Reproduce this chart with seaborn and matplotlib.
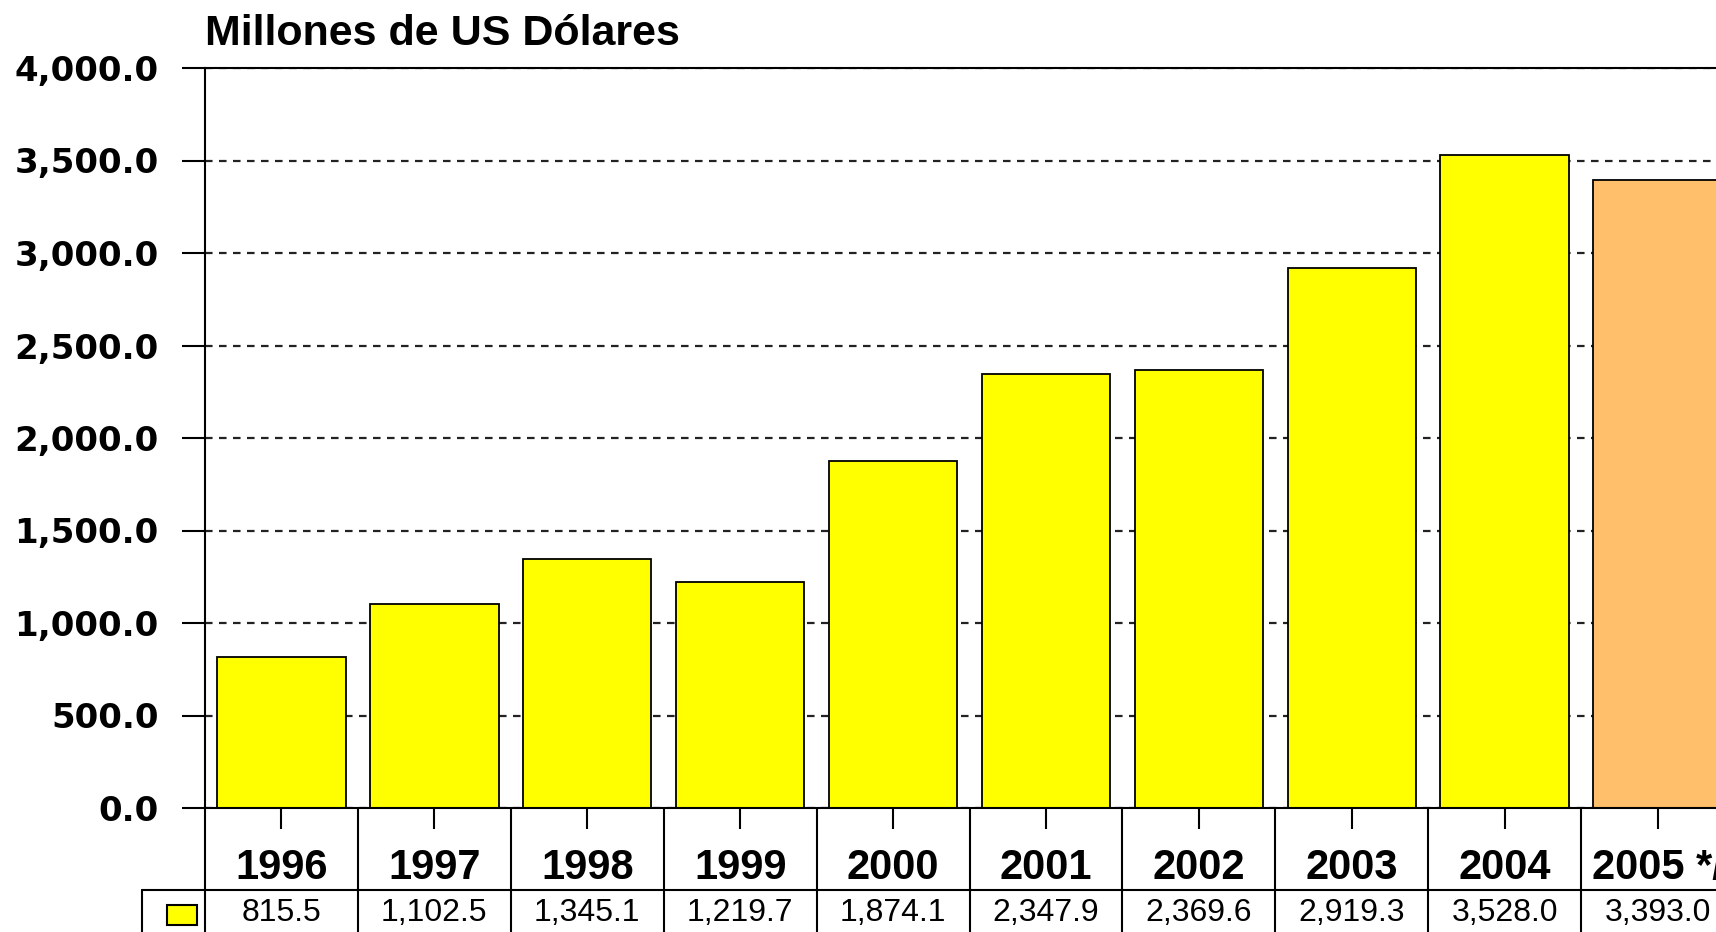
import matplotlib
matplotlib.use("Agg")
import matplotlib.pyplot as plt
import matplotlib.transforms as mtransforms
from matplotlib.patches import Rectangle
import seaborn as sns

# data
years = ["1996", "1997", "1998", "1999", "2000", "2001", "2002", "2003", "2004", "2005 */"]
values = [815.5, 1102.5, 1345.1, 1219.7, 1874.1, 2347.9, 2369.6, 2919.3, 3528.0, 3393.0]
bar_colors = ["#FFFF00"] * 9 + ["#FFBF6B"]
y_ticks = [0, 500, 1000, 1500, 2000, 2500, 3000, 3500, 4000]
title = "Millones de US Dólares"

sns.set_style("white")
plt.rcParams.update({
    "font.family": "Liberation Sans",
    "axes.linewidth": 1.5,
    "text.color": "black",
    "xtick.color": "black",
    "ytick.color": "black",
    "axes.edgecolor": "black",
})

W, H = 1716, 932
step = 152.9  # pixels per category
fig = plt.figure(figsize=(W / 100, H / 100), dpi=100)
# axes runs past the right edge of the figure, like the cropped original
ax = fig.add_axes([205 / W, 124 / H, 10 * step / W, 740 / H])

sns.barplot(x=years, y=values, hue=years, palette=bar_colors, legend=False,
            width=0.84, saturation=1, edgecolor="black", linewidth=1.3, ax=ax)

ax.set_xlim(-0.5, len(years) - 0.5)
ax.set_ylim(0, 4000)
ax.set_yticks(y_ticks)
ax.set_yticklabels([f"{v:,.1f}" for v in y_ticks],
                   fontfamily="DejaVu Sans", fontweight="bold", fontsize=24.5)
ax.set_xticks(range(len(years)))
ax.set_xticklabels(years, fontweight="bold", fontsize=30)
ax.tick_params(axis="y", direction="out", length=16.5, width=1.5, pad=17, left=True)
ax.tick_params(axis="x", direction="out", length=15, width=1.5, pad=14, bottom=True)
ax.set_xlabel("")
ax.set_ylabel("")

ax.set_axisbelow(True)
ax.yaxis.grid(True, color="#222222", linewidth=1.6, linestyle=(0, (3.4, 2.9)))
ax.xaxis.grid(False)
for side in ["left", "top", "bottom", "right"]:
    ax.spines[side].set_visible(True)

# data table under the chart
trans = mtransforms.blended_transform_factory(ax.transData, ax.transAxes)
row_line = -(890 - 808) / 740
low = -0.25
leg_left = -0.5 - (205 - 142) / step
for k in range(len(years) + 1):
    ax.plot([k - 0.5, k - 0.5], [0, low], color="black", lw=1.5,
            transform=trans, clip_on=False)
ax.plot([leg_left, len(years) - 0.5], [row_line, row_line], color="black", lw=1.5,
        transform=trans, clip_on=False)
ax.plot([leg_left, leg_left], [row_line, low], color="black", lw=1.5,
        transform=trans, clip_on=False)

val_y = -(913 - 808) / 740
for i, v in enumerate(values):
    ax.text(i, val_y, f"{v:,.1f}", transform=trans, ha="center", va="center",
            fontsize=23, clip_on=False)

sw_x0 = -0.5 - (205 - 167) / step
sw_w = (197 - 167) / step
sw_y0 = -(925 - 808) / 740
sw_h = (925 - 905) / 740
ax.add_patch(Rectangle((sw_x0, sw_y0), sw_w, sw_h, facecolor=bar_colors[0],
                       edgecolor="black", lw=1.5, transform=trans, clip_on=False))

fig.text(205 / W, (H - 45) / H, title, fontsize=31, fontweight="bold",
         ha="left", va="baseline")

fig.savefig("out.png", dpi=100)
